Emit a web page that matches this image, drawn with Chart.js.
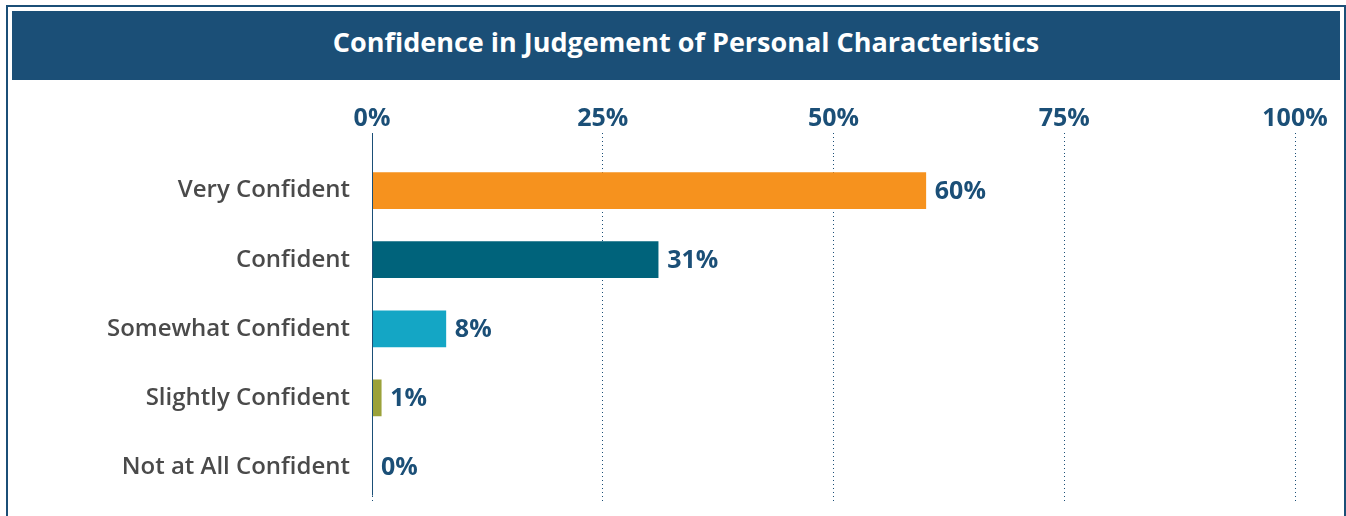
<!DOCTYPE html>
<html>
<head>
<meta charset="utf-8">
<script src="https://cdn.jsdelivr.net/npm/chart.js@4"></script>
<style>
  body { margin: 0; background: #fff; width: 1346px; height: 516px; overflow: hidden; position: relative; font-family: "Open Sans", sans-serif; }
  .frame { position: absolute; left: 6px; top: 5px; width: 1336px; height: 560px; border: 2px solid #1b4f77; }
  .title { position: absolute; left: 12px; top: 11px; width: 1328px; height: 69px; background: #1b4f77; color: #fff;
           font-weight: 700; font-size: 27px; line-height: 62px; text-align: center; padding-left: 20px; box-sizing: border-box; }
  #chart { position: absolute; left: 12px; top: 80px; }
</style>
</head>
<body>
<div class="frame"></div>
<div class="title">Confidence in Judgement of Personal Characteristics</div>
<canvas id="chart" width="1328" height="450"></canvas>
<script>
// Datos
const categorias = ['Very Confident', 'Confident', 'Somewhat Confident', 'Slightly Confident', 'Not at All Confident'];
const valores = [60, 31, 8, 1, 0];
const colores = ['#f6921e', '#00637b', '#14a6c5', '#9ba23a', '#1b4f77'];
const ticksX = [0, 25, 50, 75, 100];

const azul = '#1b4f77';

// etiquetas de valor al final de cada barra
const etiquetas = {
    id: 'etiquetas',
    afterDatasetsDraw(chart) {
        const ctx = chart.ctx;
        const meta = chart.getDatasetMeta(0);
        ctx.save();
        ctx.font = 'bold 25px "Open Sans"';
        ctx.fillStyle = azul;
        ctx.textAlign = 'left';
        ctx.textBaseline = 'middle';
        meta.data.forEach((bar, i) => {
            ctx.fillText(valores[i] + '%', bar.x + 9, bar.y + 1);
        });
        ctx.restore();
    }
};

// linea solida en 0%
const ejeCero = {
    id: 'ejeCero',
    afterDatasetsDraw(chart) {
        const ctx = chart.ctx;
        const x = Math.round(chart.scales.x.getPixelForValue(0)) + 0.5;
        ctx.save();
        ctx.strokeStyle = azul;
        ctx.lineWidth = 1;
        ctx.beginPath();
        ctx.moveTo(x, chart.chartArea.top - 23);
        ctx.lineTo(x, chart.chartArea.bottom - 6);
        ctx.stroke();
        ctx.restore();
    }
};

new Chart(document.getElementById('chart'), {
    type: 'bar',
    data: {
        labels: categorias,
        datasets: [{
            data: valores,
            backgroundColor: colores,
            barThickness: 36
        }]
    },
    options: {
        indexAxis: 'y',
        responsive: false,
        animation: false,
        devicePixelRatio: 1,
        layout: { padding: { left: 0, right: 45, top: 0, bottom: 0 } },
        plugins: { legend: { display: false }, tooltip: { enabled: false } },
        scales: {
            x: {
                position: 'top',
                min: 0,
                max: 100,
                afterBuildTicks: s => { s.ticks = ticksX.map(v => ({ value: v })); },
                afterFit: s => { s.height = 76; },
                border: { display: false, dash: [1, 3] },
                grid: {
                    color: azul,
                    lineWidth: 1,
                    drawTicks: true,
                    tickLength: 23,
                    tickColor: azul,
                    tickBorderDash: [1, 3]
                },
                ticks: {
                    padding: -1,
                    color: azul,
                    font: { family: 'Open Sans', size: 25, weight: 'bold' },
                    callback: v => v + '%'
                }
            },
            y: {
                afterFit: s => { s.width = 360; },
                border: { display: false },
                grid: { display: false },
                ticks: {
                    padding: 14,
                    color: '#4a4a4a',
                    font: { family: 'Open Sans', size: 24, weight: '600' }
                }
            }
        }
    },
    plugins: [etiquetas, ejeCero]
});
</script>
</body>
</html>
